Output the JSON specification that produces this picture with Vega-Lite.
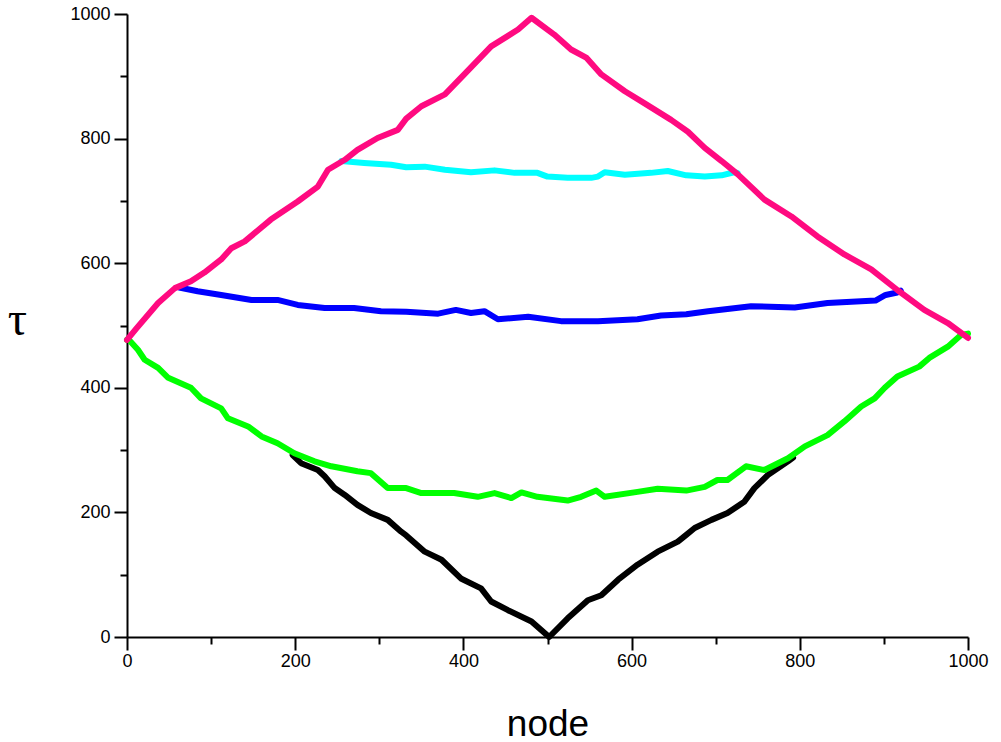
{
  "$schema": "https://vega.github.io/schema/vega-lite/v6.json",
  "autosize": "none",
  "width": 841,
  "height": 623,
  "padding": {"left": 127, "top": 14, "right": 33, "bottom": 105},
  "background": "white",
  "config": {"view": {"stroke": null}},
  "datasets": {
    "rows": [
      {"s": "black", "x": 197, "y": 292}, {"s": "black", "x": 207, "y": 279}, {"s": "black", "x": 227, "y": 268}, {"s": "black", "x": 235, "y": 258}, {"s": "black", "x": 247, "y": 239}, {"s": "black", "x": 259, "y": 228}, {"s": "black", "x": 274, "y": 212}, {"s": "black", "x": 290, "y": 199}, {"s": "black", "x": 310, "y": 188}, {"s": "black", "x": 326, "y": 169}, {"s": "black", "x": 332, "y": 163}, {"s": "black", "x": 354, "y": 137}, {"s": "black", "x": 374, "y": 124}, {"s": "black", "x": 397, "y": 94}, {"s": "black", "x": 421, "y": 78}, {"s": "black", "x": 433, "y": 57}, {"s": "black", "x": 453, "y": 43}, {"s": "black", "x": 481, "y": 25}, {"s": "black", "x": 502, "y": 0}, {"s": "black", "x": 524, "y": 30}, {"s": "black", "x": 548, "y": 59}, {"s": "black", "x": 564, "y": 67}, {"s": "black", "x": 584, "y": 92}, {"s": "black", "x": 607, "y": 116}, {"s": "black", "x": 631, "y": 137}, {"s": "black", "x": 655, "y": 153}, {"s": "black", "x": 665, "y": 164}, {"s": "black", "x": 675, "y": 175}, {"s": "black", "x": 695, "y": 188}, {"s": "black", "x": 714, "y": 199}, {"s": "black", "x": 734, "y": 217}, {"s": "black", "x": 746, "y": 239}, {"s": "black", "x": 762, "y": 260}, {"s": "black", "x": 786, "y": 282}, {"s": "black", "x": 792, "y": 288},

      {"s": "blue", "x": 62, "y": 561}, {"s": "blue", "x": 84, "y": 555}, {"s": "blue", "x": 112, "y": 549}, {"s": "blue", "x": 148, "y": 541}, {"s": "blue", "x": 179, "y": 541}, {"s": "blue", "x": 203, "y": 533}, {"s": "blue", "x": 235, "y": 528}, {"s": "blue", "x": 270, "y": 528}, {"s": "blue", "x": 302, "y": 523}, {"s": "blue", "x": 332, "y": 522}, {"s": "blue", "x": 370, "y": 519}, {"s": "blue", "x": 391, "y": 525}, {"s": "blue", "x": 409, "y": 520}, {"s": "blue", "x": 425, "y": 523}, {"s": "blue", "x": 441, "y": 510}, {"s": "blue", "x": 477, "y": 514}, {"s": "blue", "x": 516, "y": 507}, {"s": "blue", "x": 560, "y": 507}, {"s": "blue", "x": 607, "y": 510}, {"s": "blue", "x": 635, "y": 516}, {"s": "blue", "x": 665, "y": 518}, {"s": "blue", "x": 691, "y": 523}, {"s": "blue", "x": 742, "y": 531}, {"s": "blue", "x": 794, "y": 529}, {"s": "blue", "x": 833, "y": 536}, {"s": "blue", "x": 890, "y": 540}, {"s": "blue", "x": 902, "y": 549}, {"s": "blue", "x": 916, "y": 553}, {"s": "blue", "x": 920, "y": 556},

      {"s": "cyan", "x": 255, "y": 764}, {"s": "cyan", "x": 282, "y": 761}, {"s": "cyan", "x": 314, "y": 758}, {"s": "cyan", "x": 332, "y": 754}, {"s": "cyan", "x": 354, "y": 755}, {"s": "cyan", "x": 378, "y": 750}, {"s": "cyan", "x": 409, "y": 746}, {"s": "cyan", "x": 437, "y": 749}, {"s": "cyan", "x": 461, "y": 745}, {"s": "cyan", "x": 488, "y": 745}, {"s": "cyan", "x": 500, "y": 739}, {"s": "cyan", "x": 524, "y": 737}, {"s": "cyan", "x": 552, "y": 737}, {"s": "cyan", "x": 560, "y": 739}, {"s": "cyan", "x": 568, "y": 746}, {"s": "cyan", "x": 592, "y": 742}, {"s": "cyan", "x": 623, "y": 745}, {"s": "cyan", "x": 643, "y": 748}, {"s": "cyan", "x": 665, "y": 741}, {"s": "cyan", "x": 687, "y": 739}, {"s": "cyan", "x": 707, "y": 741}, {"s": "cyan", "x": 722, "y": 746}, {"s": "cyan", "x": 726, "y": 745},

      {"s": "green", "x": 0, "y": 477}, {"s": "green", "x": 3, "y": 476}, {"s": "green", "x": 13, "y": 461}, {"s": "green", "x": 21, "y": 445}, {"s": "green", "x": 37, "y": 432}, {"s": "green", "x": 49, "y": 416}, {"s": "green", "x": 76, "y": 400}, {"s": "green", "x": 88, "y": 383}, {"s": "green", "x": 112, "y": 367}, {"s": "green", "x": 120, "y": 351}, {"s": "green", "x": 144, "y": 338}, {"s": "green", "x": 160, "y": 322}, {"s": "green", "x": 179, "y": 311}, {"s": "green", "x": 199, "y": 295}, {"s": "green", "x": 223, "y": 282}, {"s": "green", "x": 243, "y": 274}, {"s": "green", "x": 274, "y": 266}, {"s": "green", "x": 290, "y": 263}, {"s": "green", "x": 310, "y": 239}, {"s": "green", "x": 332, "y": 239}, {"s": "green", "x": 350, "y": 231}, {"s": "green", "x": 389, "y": 231}, {"s": "green", "x": 417, "y": 225}, {"s": "green", "x": 437, "y": 231}, {"s": "green", "x": 457, "y": 223}, {"s": "green", "x": 469, "y": 232}, {"s": "green", "x": 488, "y": 225}, {"s": "green", "x": 524, "y": 219}, {"s": "green", "x": 540, "y": 225}, {"s": "green", "x": 558, "y": 235}, {"s": "green", "x": 568, "y": 225}, {"s": "green", "x": 607, "y": 233}, {"s": "green", "x": 631, "y": 238}, {"s": "green", "x": 665, "y": 235}, {"s": "green", "x": 687, "y": 241}, {"s": "green", "x": 702, "y": 252}, {"s": "green", "x": 714, "y": 252}, {"s": "green", "x": 736, "y": 274}, {"s": "green", "x": 758, "y": 268}, {"s": "green", "x": 786, "y": 287}, {"s": "green", "x": 806, "y": 306}, {"s": "green", "x": 833, "y": 324}, {"s": "green", "x": 853, "y": 346}, {"s": "green", "x": 873, "y": 370}, {"s": "green", "x": 889, "y": 383}, {"s": "green", "x": 901, "y": 400}, {"s": "green", "x": 916, "y": 418}, {"s": "green", "x": 942, "y": 434}, {"s": "green", "x": 954, "y": 448}, {"s": "green", "x": 976, "y": 466}, {"s": "green", "x": 992, "y": 485}, {"s": "green", "x": 1000, "y": 487},

      {"s": "magenta", "x": 0, "y": 477}, {"s": "magenta", "x": 11, "y": 495}, {"s": "magenta", "x": 37, "y": 536}, {"s": "magenta", "x": 57, "y": 560}, {"s": "magenta", "x": 76, "y": 571}, {"s": "magenta", "x": 92, "y": 585}, {"s": "magenta", "x": 112, "y": 606}, {"s": "magenta", "x": 124, "y": 624}, {"s": "magenta", "x": 140, "y": 635}, {"s": "magenta", "x": 171, "y": 670}, {"s": "magenta", "x": 203, "y": 699}, {"s": "magenta", "x": 227, "y": 723}, {"s": "magenta", "x": 239, "y": 750}, {"s": "magenta", "x": 259, "y": 766}, {"s": "magenta", "x": 274, "y": 782}, {"s": "magenta", "x": 298, "y": 801}, {"s": "magenta", "x": 322, "y": 814}, {"s": "magenta", "x": 332, "y": 832}, {"s": "magenta", "x": 350, "y": 852}, {"s": "magenta", "x": 378, "y": 871}, {"s": "magenta", "x": 401, "y": 903}, {"s": "magenta", "x": 433, "y": 948}, {"s": "magenta", "x": 465, "y": 975}, {"s": "magenta", "x": 481, "y": 994}, {"s": "magenta", "x": 508, "y": 967}, {"s": "magenta", "x": 528, "y": 943}, {"s": "magenta", "x": 546, "y": 930}, {"s": "magenta", "x": 564, "y": 903}, {"s": "magenta", "x": 592, "y": 876}, {"s": "magenta", "x": 615, "y": 857}, {"s": "magenta", "x": 647, "y": 830}, {"s": "magenta", "x": 667, "y": 811}, {"s": "magenta", "x": 687, "y": 785}, {"s": "magenta", "x": 707, "y": 764}, {"s": "magenta", "x": 726, "y": 743}, {"s": "magenta", "x": 758, "y": 702}, {"s": "magenta", "x": 790, "y": 675}, {"s": "magenta", "x": 821, "y": 643}, {"s": "magenta", "x": 853, "y": 614}, {"s": "magenta", "x": 885, "y": 590}, {"s": "magenta", "x": 916, "y": 557}, {"s": "magenta", "x": 948, "y": 525}, {"s": "magenta", "x": 976, "y": 504}, {"s": "magenta", "x": 1000, "y": 480}
    ]
  },
  "data": {"name": "rows"},
  "mark": {"type": "line", "strokeWidth": 6, "strokeJoin": "round", "strokeCap": "round", "clip": false},
  "encoding": {
    "x": {
      "field": "x", "type": "quantitative",
      "scale": {"domain": [0, 1000], "nice": false, "zero": false},
      "axis": {
        "values": [0, 100, 200, 300, 400, 500, 600, 700, 800, 900, 1000],
        "labelExpr": "datum.value % 200 === 0 ? datum.label : ''",
        "format": "d",
        "grid": false,
        "domainColor": "black", "domainWidth": 2,
        "tickColor": "black", "tickWidth": 2,
        "tickSize": {"condition": {"test": "datum.value % 200 === 0", "value": 13}, "value": 7},
        "labelPadding": 2,
        "labelFont": "Liberation Sans", "labelFontSize": 18, "labelColor": "black",
        "labelFlush": false, "labelOverlap": false,
        "title": "node",
        "titleFont": "Liberation Sans", "titleFontSize": 37, "titleFontWeight": "normal", "titleColor": "black",
        "titleBaseline": "alphabetic", "titleY": 98
      }
    },
    "y": {
      "field": "y", "type": "quantitative",
      "scale": {"domain": [0, 1000], "nice": false, "zero": false},
      "axis": {
        "values": [0, 100, 200, 300, 400, 500, 600, 700, 800, 900, 1000],
        "labelExpr": "datum.value % 200 === 0 ? datum.label : ''",
        "format": "d",
        "grid": false,
        "domainColor": "black", "domainWidth": 2,
        "tickColor": "black", "tickWidth": 2,
        "tickSize": {"condition": {"test": "datum.value % 200 === 0", "value": 13}, "value": 7},
        "labelPadding": 4,
        "labelFont": "Liberation Sans", "labelFontSize": 18, "labelColor": "black",
        "labelFlush": false, "labelOverlap": false,
        "title": "τ",
        "titleFont": "Liberation Serif", "titleFontSize": 48, "titleFontWeight": "normal", "titleColor": "black",
        "titleAngle": 0, "titleAlign": "center", "titleBaseline": "middle",
        "titleX": -110, "titleY": 306
      }
    },
    "color": {
      "field": "s", "type": "nominal",
      "scale": {"domain": ["black", "blue", "cyan", "green", "magenta"], "range": ["#000000", "#0000ff", "#00ffff", "#00ff00", "#ff0a80"]},
      "legend": null
    }
  }
}
